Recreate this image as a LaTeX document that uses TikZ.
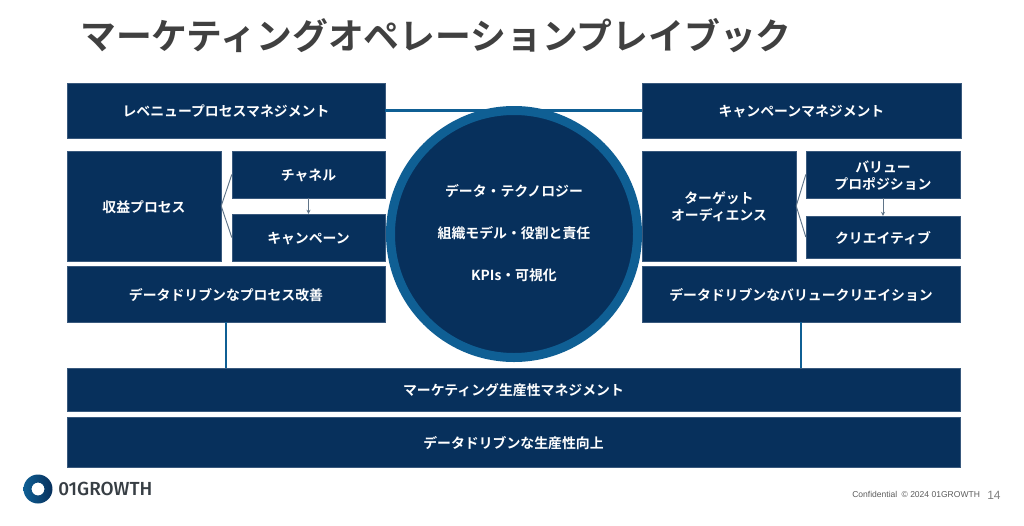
\documentclass[tikz,border=0pt]{standalone}
\usepackage{fontspec}
\setmainfont{Noto Sans CJK JP}[BoldFont=* Bold]
\newfontfamily\latinfont{Liberation Sans}
\newfontfamily\logofont{Fira Sans}[BoldFont=* Medium]
\usetikzlibrary{arrows.meta}
\definecolor{navy}{HTML}{07305C}
\definecolor{ringblue}{HTML}{0F5F94}
\definecolor{titlegray}{HTML}{404040}
\definecolor{linkgray}{HTML}{5F7488}
\tikzset{
  every node/.style={font=\fontsize{10.4pt}{12.8pt}\selectfont\bfseries, inner sep=0pt},
  lbl/.style={text=white, align=center},
  boxfill/.style={fill=navy, draw=navy!80!white, line width=0.3pt},
  thick link/.style={draw=ringblue, line width=1.8pt},
  thin link/.style={draw=linkgray, line width=0.7pt},
  flow/.style={draw=linkgray, line width=0.7pt, -{Stealth[length=3pt,width=3pt]}},
}
\newcommand{\bx}[6]{%
  \node[boxfill, anchor=center, minimum width={(#4-#2)*0.75pt}, minimum height={(#5-#3)*0.75pt}]
    (#1) at ({(#2+#4)/2},{(#3+#5)/2}) {};
  \node[lbl] (#1t) at ({(#2+#4)/2},{(#3+#5)/2+1}) {#6};}
\begin{document}
\begin{tikzpicture}[x=0.75pt,y=-0.75pt]
\useasboundingbox (0,0) rectangle (1024,525);
\fill[white] (0,0) rectangle (1024,525);

\node[anchor=west, text=titlegray, font=\fontsize{26.85pt}{30pt}\selectfont\bfseries] (title) at (80,36) {マーケティングオペレーションプレイブック};

\bx{rpm}{67}{83}{385}{138}{レベニュープロセスマネジメント}
\bx{cpm}{642}{83}{961}{138}{キャンペーンマネジメント}
\bx{rev}{67}{151}{221}{261}{収益プロセス}
\bx{chn}{232}{151}{385}{198}{チャネル}
\bx{cam}{232}{214}{385}{261}{キャンペーン}
\bx{dpi}{67}{266}{385}{322}{データドリブンなプロセス改善}
\bx{tgt}{642}{151}{796}{261}{ターゲット\\オーディエンス}
\bx{val}{806}{151}{960}{198}{バリュー\\プロポジション}
\bx{cre}{806}{216}{960}{258}{クリエイティブ}
\bx{dvc}{642}{266}{960}{322}{データドリブンなバリュークリエイション}
\bx{mpm}{67}{368}{960}{411}{マーケティング生産性マネジメント}
\bx{dpu}{67}{417}{960}{467}{データドリブンな生産性向上}

\draw[thick link] (rpm.east) -- (cpm.west);
\draw[thick link] (dpi.south) -- (dpi.south |- mpm.north);
\draw[thick link] (dvc.south) -- (dvc.south |- mpm.north);
\draw[thin link] (rev.east) -- (chn.west);
\draw[thin link] (rev.east) -- (cam.west);
\draw[flow] (chn.south) -- (cam.north);
\draw[thin link] (tgt.east) -- (val.west);
\draw[thin link] (tgt.east) -- (cre.west);
\draw[flow] (val.south) -- (cre.north);

\node[circle, fill=navy, draw=ringblue, line width=6.75pt, minimum size={247*0.75pt}] (hub) at (514,234) {};
\node[lbl] (hub1) at (514,191) {データ・テクノロジー};
\node[lbl] (hub2) at (514,233) {組織モデル・役割と責任};
\node[lbl] (hub3) at (514,275) {KPIs・可視化};

\shade[even odd rule, left color=ringblue, right color=navy] (38,489) circle[radius=14.5] (38,489) circle[radius=6.5];
\node[anchor=west, text=titlegray!85!navy, font=\logofont\fontsize{14.2pt}{16pt}\selectfont\bfseries] (logo) at (58,489) {01GROWTH};
\node[anchor=west, text=titlegray!85, font=\latinfont\mdseries\fontsize{6.4pt}{8pt}\selectfont] (foot) at (852,494) {Confidential\enspace© 2024 01GROWTH};
\node[anchor=west, text=gray, font=\latinfont\mdseries\fontsize{9pt}{10pt}\selectfont] (page) at (987,495) {14};
\end{tikzpicture}
\end{document}
